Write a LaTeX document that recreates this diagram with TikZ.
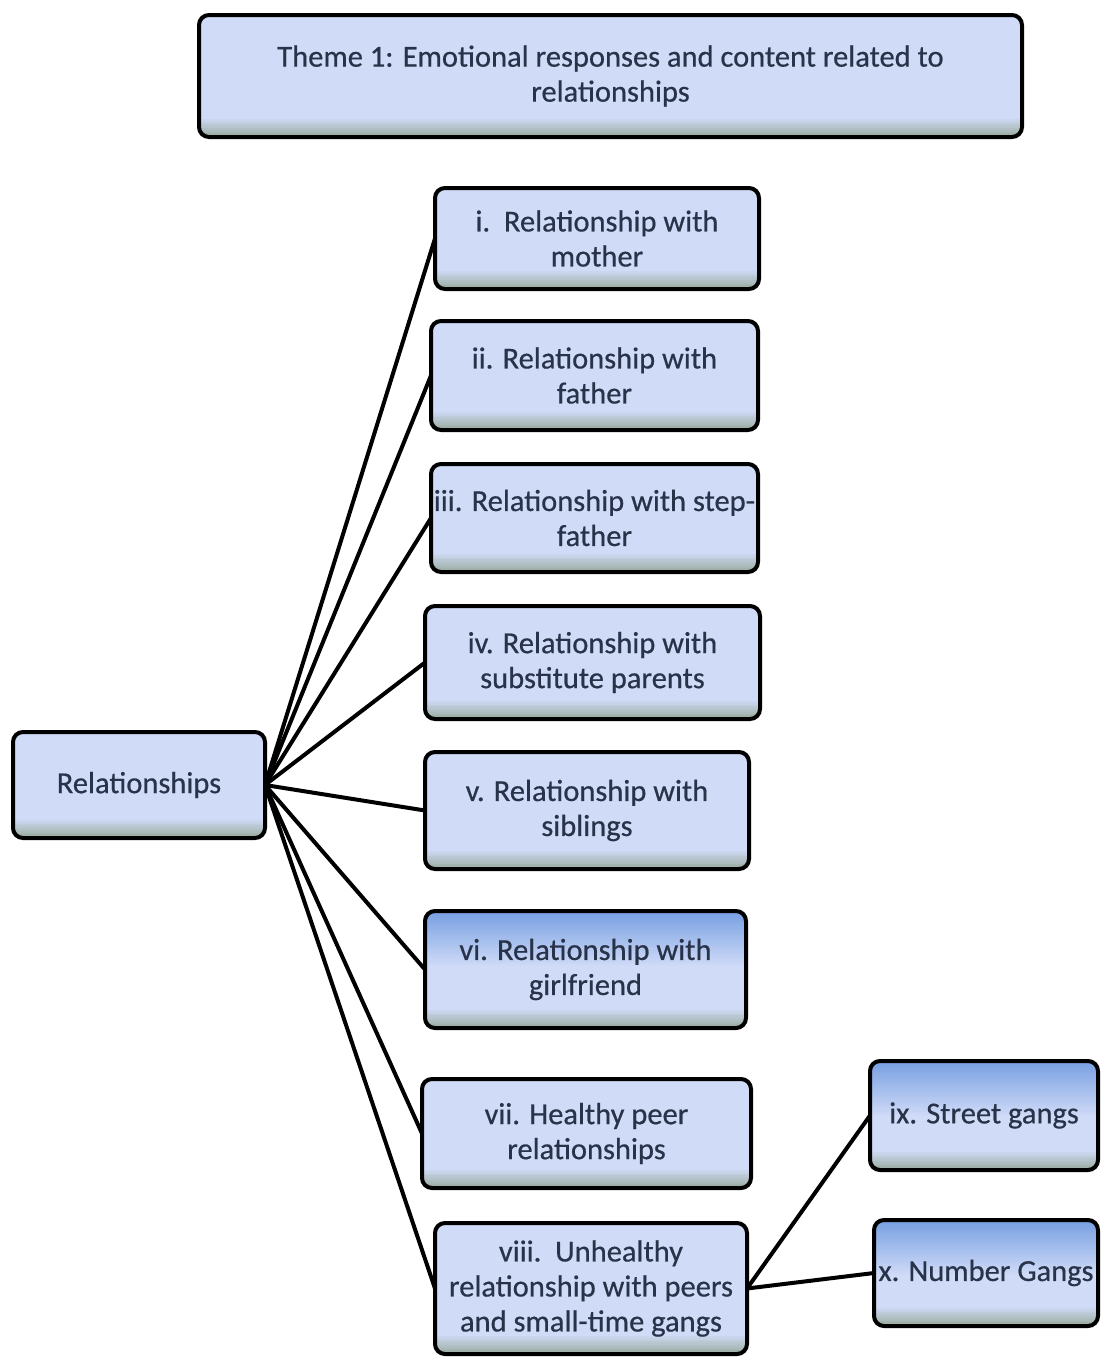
\documentclass[tikz,border=0pt]{standalone}
\usepackage{fontspec}
\setmainfont{Carlito}[FakeBold=0.5]
\newfontfamily\labelfont{Carlito}[FakeBold=0.5]
\usetikzlibrary{calc,backgrounds}
\begin{document}
\definecolor{boxfill}{RGB}{208,219,247}
\definecolor{boxband}{RGB}{155,172,160}
\definecolor{boxdeep}{RGB}{120,160,226}
\definecolor{txt}{RGB}{40,50,72}
% fill of a box: flat colour with a soft greyish band along the lower edge
\newcommand{\tilebody}[1]{%
  \begin{scope}
    \clip[rounded corners=10pt] (#1.south west) rectangle (#1.north east);
    \fill[boxfill] (#1.south west) rectangle (#1.north east);
    \foreach \k in {0,...,9}{%
      \pgfmathtruncatemacro{\pct}{100-\k*10}%
      \fill[boxband!\pct!boxfill]
        ($(#1.south west)+(0,-\k*1.8)$) rectangle ($(#1.south east)+(0,-\k*1.8-2.2)$);
    }
  \end{scope}}
% deeper blue wash along the upper edge
\newcommand{\tilewash}[1]{%
  \begin{scope}
    \clip[rounded corners=10pt] (#1.south west) rectangle (#1.north east);
    \foreach \k in {0,...,24}{%
      \pgfmathtruncatemacro{\pct}{100-\k*4}%
      \fill[boxdeep!\pct!boxfill]
        ($(#1.north west)+(0,\k*2.2)$) rectangle ($(#1.north east)+(0,\k*2.2+2.6)$);
    }
  \end{scope}}
\newcommand{\tileedge}[1]{%
  \draw[line width=4pt, rounded corners=10pt] (#1.south west) rectangle (#1.north east);}
\begin{tikzpicture}[x=1pt,y=-1pt,
  box/.style={align=center, text=txt, inner sep=2pt, outer sep=0pt,
    font=\labelfont\fontsize{30.5}{35}\selectfont},
  link/.style={draw=black, line width=4pt}
]
\useasboundingbox (0,0) rectangle (1102,1358);

% heading
\node[box, minimum width=823pt, minimum height=122pt] (theme) at (610.5,76)
  {Theme 1: Emotional responses and content related to\\relationships};

% root of the tree
\node[box, minimum width=252pt, minimum height=106pt] (rel) at (139,785) {Relationships};

% branches
\node[box, minimum width=324pt, minimum height=101pt] (b1) at (597,238.5)
  {i.\ \ Relationship with\\mother};
\node[box, minimum width=327pt, minimum height=109pt] (b2) at (594.5,375.5)
  {ii. Relationship with\\father};
\node[box, minimum width=327pt, minimum height=108pt] (b3) at (594.5,518)
  {iii. Relationship with step-\\father};
\node[box, minimum width=335pt, minimum height=113pt] (b4) at (592.5,662.5)
  {iv. Relationship with\\substitute parents};
\node[box, minimum width=324pt, minimum height=117pt] (b5) at (587,810.5)
  {v. Relationship with\\siblings};
\node[box, minimum width=321pt, minimum height=117pt] (b6) at (585.5,969.5)
  {vi. Relationship with\\girlfriend};
\node[box, minimum width=329pt, minimum height=109pt] (b7) at (586.5,1133.5)
  {vii. Healthy peer\\relationships};
\node[box, minimum width=312pt, minimum height=131pt] (b8) at (591,1288.5)
  {viii.\ \ Unhealthy\\relationship with peers\\and small-time gangs};

% gang sub-branches
\node[box, minimum width=228pt, minimum height=109pt] (b9) at (984,1115.5)
  {ix. Street gangs};
\node[box, minimum width=224pt, minimum height=106pt] (b10) at (986,1273)
  {x. Number Gangs};

\begin{pgfonlayer}{background}
  % connectors
  \coordinate (hub) at (rel.east);
  \foreach \n in {b1,b2,b3,b4,b5,b6,b7,b8}
    \draw[link] (hub) -- (\n.west);
  \draw[link] (b8.east) -- (b9.west);
  \draw[link] (b8.east) -- (b10.west);
  % box bodies and frames
  \foreach \n in {theme,rel,b1,b2,b3,b4,b5,b6,b7,b8,b9,b10}
    {\tilebody{\n}}
  \foreach \n in {b6,b9,b10}
    {\tilewash{\n}}
  \foreach \n in {theme,rel,b1,b2,b3,b4,b5,b6,b7,b8,b9,b10}
    {\tileedge{\n}}
\end{pgfonlayer}
\end{tikzpicture}
\end{document}
